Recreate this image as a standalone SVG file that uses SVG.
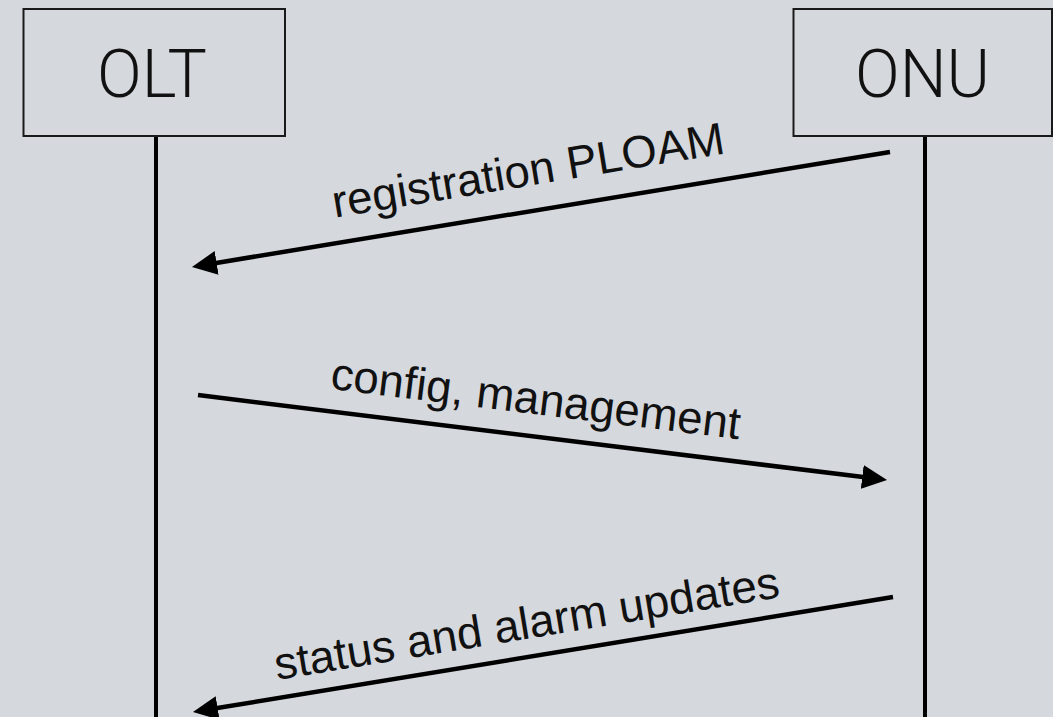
<svg xmlns="http://www.w3.org/2000/svg" width="1053" height="717" viewBox="0 0 1053 717">
  <style>
    .box { fill: none; stroke: #1a1a1a; stroke-width: 2; }
    .life { stroke: #000; stroke-width: 4; }
    .title { font-family: Roboto, "Liberation Sans", sans-serif; font-weight: 300; font-size: 66px; fill: #111; text-anchor: middle; }
    .msg { stroke: #000; stroke-width: 4.5; fill: none; marker-end: url(#arrow); }
    .lbl { font-family: "Liberation Sans", Arial, sans-serif; font-size: 45.5px; fill: #111; text-anchor: middle; }
  </style>
  <defs>
    <marker id="arrow" viewBox="0 0 25 24" refX="5" refY="12" markerWidth="25" markerHeight="24" markerUnits="userSpaceOnUse" orient="auto">
      <path d="M0,0 L25,12 L0,24 z" fill="#000"/>
    </marker>
  </defs>
  <rect x="0" y="0" width="1053" height="717" fill="#d5d8dd"/>
  <g id="olt">
    <rect class="box" x="23.5" y="9" width="261.5" height="127"/>
    <line class="life" x1="156" y1="137" x2="156" y2="717"/>
    <text class="title" x="152" y="97">OLT</text>
  </g>
  <g id="onu">
    <rect class="box" x="793.5" y="9" width="258.5" height="127"/>
    <line class="life" x1="925" y1="137" x2="925" y2="717"/>
    <text class="title" x="922.5" y="97">ONU</text>
  </g>
  <g id="connectors">
    <g id="msg1">
      <line class="msg" x1="890" y1="152" x2="211.7" y2="263.7"/>
      <text class="lbl" transform="translate(530.5 185.5) rotate(-9.36)">registration PLOAM</text>
    </g>
    <g id="msg2">
      <line class="msg" x1="198" y1="395" x2="867.2" y2="477.6"/>
      <text class="lbl" transform="translate(534 414) rotate(7.03)">config, management</text>
    </g>
    <g id="msg3">
      <line class="msg" x1="893" y1="597" x2="212.7" y2="708.8"/>
      <text class="lbl" transform="translate(529 638.5) rotate(-9.33)">status and alarm updates</text>
    </g>
  </g>
</svg>
